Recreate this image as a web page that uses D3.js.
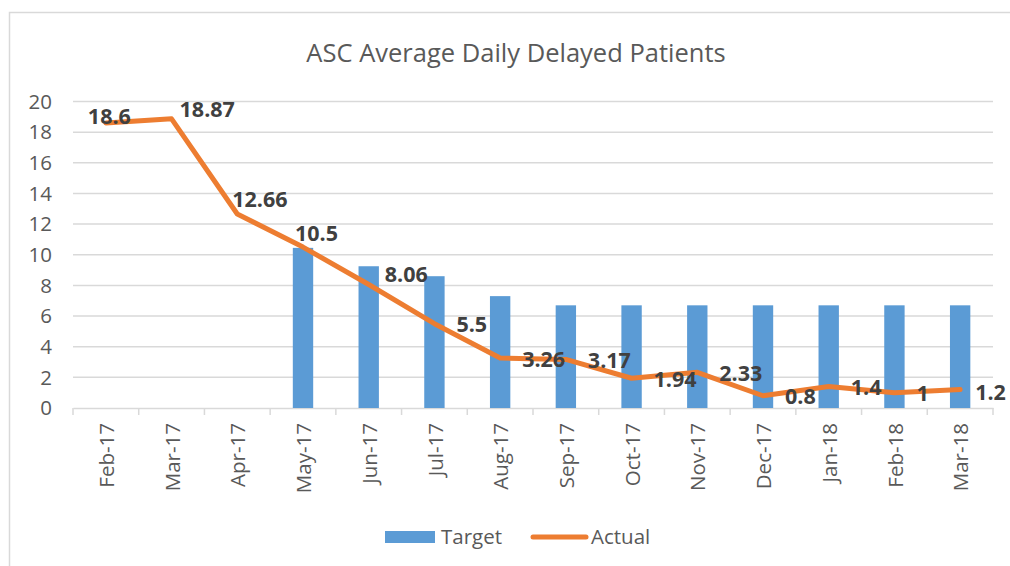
<!DOCTYPE html>
<html>
<head>
<meta charset="utf-8">
<script src="https://cdn.jsdelivr.net/npm/d3@7"></script>
<style>
  body { margin: 0; background: #fff; overflow: hidden; }
  svg { display: block; font-family: "Open Sans", sans-serif; }
</style>
</head>
<body>
<div id="chart"></div>
<script>
// chart values
var months = ["Feb-17", "Mar-17", "Apr-17", "May-17", "Jun-17", "Jul-17", "Aug-17",
  "Sep-17", "Oct-17", "Nov-17", "Dec-17", "Jan-18", "Feb-18", "Mar-18"];
var target = [null, null, null, 10.45, 9.25, 8.6, 7.3, 6.7, 6.7, 6.7, 6.7, 6.7, 6.7, 6.7];
var actual = [18.6, 18.87, 12.66, 10.5, 8.06, 5.5, 3.26, 3.17, 1.94, 2.33, 0.8, 1.4, 1, 1.2];
var yTicks = [0, 2, 4, 6, 8, 10, 12, 14, 16, 18, 20];
var seriesNames = ["Target", "Actual"];

var W = 1010, H = 566;
var margin = {left: 73, right: 17, top: 101.5, bottom: 158};

// labels moved by hand in the original, others sit to the right of the point
var labelShift = {0: [-18, -6], 1: [8, -9], 2: [-5, -15], 3: [-8, -14], 4: [16, -10], 13: [15, 3]};

var svg = d3.select("#chart").append("svg")
  .attr("width", W)
  .attr("height", H);

// chart frame (runs off the right and bottom)
svg.append("path")
  .attr("d", "M" + (W + 5) + ",12.5 H9.5 V" + (H + 5))
  .attr("fill", "none")
  .attr("stroke", "#d9d9d9")
  .attr("stroke-width", 1.5);

svg.append("text")
  .attr("x", 516).attr("y", 62)
  .attr("text-anchor", "middle")
  .attr("fill", "#595959")
  .style("font-size", "25.5px")
  .text("ASC Average Daily Delayed Patients");

var x = d3.scaleBand()
  .domain(months)
  .range([margin.left, W - margin.right])
  .padding(0);

var y = d3.scaleLinear()
  .domain([0, 20])
  .range([H - margin.bottom, margin.top]);

// gridlines
svg.append("g")
  .selectAll("line")
  .data(yTicks.filter(d => d > 0))
  .join("line")
  .attr("x1", margin.left)
  .attr("x2", W - margin.right)
  .attr("y1", d => y(d))
  .attr("y2", d => y(d))
  .attr("stroke", "#d9d9d9")
  .attr("stroke-width", 1.5);

// y labels
svg.append("g")
  .selectAll("text")
  .data(yTicks)
  .join("text")
  .attr("x", 52)
  .attr("y", d => y(d))
  .attr("dy", "0.35em")
  .attr("text-anchor", "end")
  .attr("fill", "#595959")
  .style("font-size", "20.5px")
  .text(d => d);

// bottom axis
var xAxis = d3.axisBottom(x)
  .tickValues([])
  .tickSizeOuter(0);
var gx = svg.append("g")
  .attr("transform", "translate(0," + y(0) + ")")
  .call(xAxis);
gx.select(".domain").attr("stroke", "#d9d9d9").attr("stroke-width", 1.5);
gx.selectAll(".sep")
  .data(months.concat(["end"]))
  .join("line")
  .attr("class", "sep")
  .attr("x1", (d, i) => margin.left + i * x.bandwidth())
  .attr("x2", (d, i) => margin.left + i * x.bandwidth())
  .attr("y1", 0)
  .attr("y2", 7)
  .attr("stroke", "#d9d9d9")
  .attr("stroke-width", 1.5);

// month labels, rotated
svg.append("g")
  .selectAll("text")
  .data(months)
  .join("text")
  .attr("transform", d => "translate(" + (x(d) + x.bandwidth() / 2 + 1) + "," + (y(0) + 15) + ") rotate(-90)")
  .attr("dy", "0.35em")
  .attr("text-anchor", "end")
  .attr("fill", "#595959")
  .style("font-size", "20.5px")
  .text(d => d);

// bars
var barW = x.bandwidth() * 0.31;
svg.append("g")
  .selectAll("rect")
  .data(months.map((m, i) => ({m: m, v: target[i]})).filter(d => d.v != null))
  .join("rect")
  .attr("x", d => x(d.m) + x.bandwidth() / 2 - barW / 2)
  .attr("y", d => y(d.v))
  .attr("width", barW)
  .attr("height", d => y(0) - y(d.v))
  .attr("fill", "#5b9bd5");

// line
var line = d3.line()
  .x((d, i) => x(months[i]) + x.bandwidth() / 2)
  .y(d => y(d));

svg.append("path")
  .datum(actual)
  .attr("d", line)
  .attr("fill", "none")
  .attr("stroke", "#ed7d31")
  .attr("stroke-width", 5)
  .attr("stroke-linejoin", "round")
  .attr("stroke-linecap", "round");

// data labels
svg.append("g")
  .selectAll("text")
  .data(actual)
  .join("text")
  .attr("x", (d, i) => x(months[i]) + x.bandwidth() / 2 + (labelShift[i] ? labelShift[i][0] : 22))
  .attr("y", (d, i) => y(d) + (labelShift[i] ? labelShift[i][1] : 1))
  .attr("dy", "0.35em")
  .attr("fill", "#404040")
  .style("font-size", "21.5px")
  .style("font-weight", "bold")
  .text(d => d);

// legend
var lg = svg.append("g");
lg.append("rect")
  .attr("x", 385).attr("y", 531)
  .attr("width", 50).attr("height", 12)
  .attr("fill", "#5b9bd5");
lg.append("text")
  .attr("x", 441).attr("y", 537)
  .attr("dy", "0.35em")
  .attr("fill", "#595959")
  .style("font-size", "20.5px")
  .text(seriesNames[0]);
lg.append("line")
  .attr("x1", 533).attr("x2", 586)
  .attr("y1", 537).attr("y2", 537)
  .attr("stroke", "#ed7d31")
  .attr("stroke-width", 5)
  .attr("stroke-linecap", "round");
lg.append("text")
  .attr("x", 591).attr("y", 537)
  .attr("dy", "0.35em")
  .attr("fill", "#595959")
  .style("font-size", "20.5px")
  .text(seriesNames[1]);
</script>
</body>
</html>
